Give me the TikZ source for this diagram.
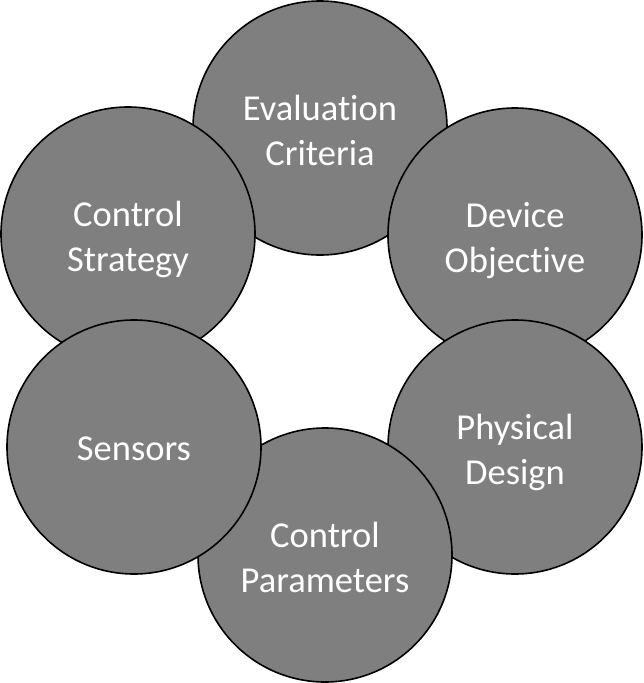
\documentclass[tikz,border=0pt]{standalone}
\usepackage{fontspec}
\setmainfont{Carlito}[RawFeature={-liga;-clig;-dlig;-calt}]
\newcommand\twol[2]{\raisebox{-6pt}[\height][\depth]{\begin{tabular}{@{}c@{}}#1\\#2\end{tabular}}}
\begin{document}
\begin{tikzpicture}[x=1pt,y=-1pt,
  petal/.style={circle, draw=black, fill=gray50, line width=1.6pt, minimum size=254pt, inner sep=0pt,
    text=white, font=\fontsize{36.5}{44.5}\selectfont}]
\definecolor{gray50}{RGB}{127,127,127}
\useasboundingbox (0,0) rectangle (643,683);
\node[petal] (eval) at (320,128) {\twol{Evaluation}{Criteria}};
\node[petal] (dev) at (515,235) {\twol{Device}{Objective}};
\node[petal] (phys) at (515,447) {\twol{Physical}{Design}};
\node[petal] (param) at (325,555) {\twol{Control}{Parameters}};
\node[petal] (strat) at (128,234) {\twol{Control}{Strategy}};
\node[petal] (sens) at (134,447) {\raisebox{-2pt}[\height][\depth]{Sensors}};
\end{tikzpicture}
\end{document}
